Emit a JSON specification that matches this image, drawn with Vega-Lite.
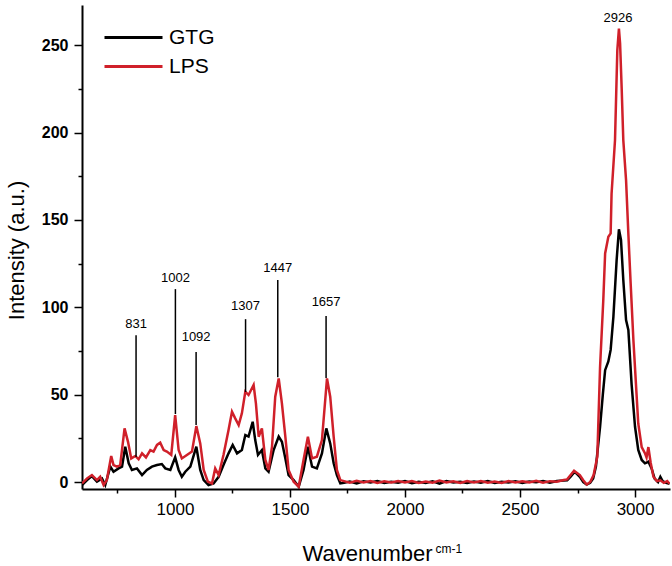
{
  "$schema": "https://vega.github.io/schema/vega-lite/v6.json",
  "width": 588,
  "height": 484,
  "autosize": "none",
  "padding": {"left": 82, "top": 5, "right": 2, "bottom": 77},
  "background": "white",
  "config": {
    "view": {"stroke": null},
    "font": "Liberation Sans",
    "axis": {"domainColor": "black", "domainWidth": 2, "tickColor": "black", "tickWidth": 1.5, "grid": false, "labelColor": "black", "titleColor": "black", "labelFont": "Liberation Sans", "titleFont": "Liberation Sans", "titleFontWeight": "normal"}
  },
  "datasets": {
    "spectra": [
      {"wn":596,"sample":"GTG","v":-1.7},{"wn":618,"sample":"GTG","v":1.1},{"wn":639,"sample":"GTG","v":3.4},{"wn":661,"sample":"GTG","v":0.2},{"wn":683,"sample":"GTG","v":2},{"wn":697,"sample":"GTG","v":-1.7},{"wn":719,"sample":"GTG","v":8.8},{"wn":733,"sample":"GTG","v":5.9},{"wn":755,"sample":"GTG","v":7.8},{"wn":770,"sample":"GTG","v":8.8},{"wn":784,"sample":"GTG","v":20.2},{"wn":799,"sample":"GTG","v":10.7},{"wn":813,"sample":"GTG","v":6.9},{"wn":835,"sample":"GTG","v":7.8},{"wn":857,"sample":"GTG","v":4},{"wn":878,"sample":"GTG","v":6.9},{"wn":900,"sample":"GTG","v":8.8},{"wn":922,"sample":"GTG","v":9.7},{"wn":943,"sample":"GTG","v":10.3},{"wn":958,"sample":"GTG","v":7.8},{"wn":980,"sample":"GTG","v":6.9},{"wn":1001,"sample":"GTG","v":14.1},{"wn":1016,"sample":"GTG","v":6.9},{"wn":1030,"sample":"GTG","v":3},{"wn":1045,"sample":"GTG","v":5.9},{"wn":1067,"sample":"GTG","v":8.8},{"wn":1093,"sample":"GTG","v":20.2},{"wn":1110,"sample":"GTG","v":6.9},{"wn":1125,"sample":"GTG","v":1.1},{"wn":1146,"sample":"GTG","v":-1.7},{"wn":1168,"sample":"GTG","v":-0.8},{"wn":1190,"sample":"GTG","v":3},{"wn":1211,"sample":"GTG","v":9.7},{"wn":1233,"sample":"GTG","v":16.4},{"wn":1251,"sample":"GTG","v":21.2},{"wn":1270,"sample":"GTG","v":16.4},{"wn":1291,"sample":"GTG","v":18.3},{"wn":1306,"sample":"GTG","v":26.9},{"wn":1320,"sample":"GTG","v":26},{"wn":1338,"sample":"GTG","v":34.5},{"wn":1349,"sample":"GTG","v":24},{"wn":1361,"sample":"GTG","v":15.5},{"wn":1378,"sample":"GTG","v":18.3},{"wn":1393,"sample":"GTG","v":7.8},{"wn":1407,"sample":"GTG","v":5.9},{"wn":1429,"sample":"GTG","v":18.3},{"wn":1451,"sample":"GTG","v":26},{"wn":1465,"sample":"GTG","v":23},{"wn":1480,"sample":"GTG","v":13.5},{"wn":1494,"sample":"GTG","v":4},{"wn":1516,"sample":"GTG","v":1.1},{"wn":1538,"sample":"GTG","v":-2.7},{"wn":1559,"sample":"GTG","v":6.9},{"wn":1578,"sample":"GTG","v":20.2},{"wn":1596,"sample":"GTG","v":8.8},{"wn":1617,"sample":"GTG","v":7.8},{"wn":1639,"sample":"GTG","v":16.4},{"wn":1658,"sample":"GTG","v":30.7},{"wn":1675,"sample":"GTG","v":22.1},{"wn":1690,"sample":"GTG","v":10.7},{"wn":1704,"sample":"GTG","v":4},{"wn":1719,"sample":"GTG","v":-0.8},
      {"wn":1735,"sample":"GTG","v":-0.5},{"wn":1760,"sample":"GTG","v":0.3},{"wn":1790,"sample":"GTG","v":-0.8},{"wn":1820,"sample":"GTG","v":0.4},{"wn":1850,"sample":"GTG","v":-0.3},{"wn":1880,"sample":"GTG","v":0.6},{"wn":1910,"sample":"GTG","v":-0.6},{"wn":1940,"sample":"GTG","v":0.2},{"wn":1970,"sample":"GTG","v":-0.4},{"wn":2000,"sample":"GTG","v":0.5},{"wn":2030,"sample":"GTG","v":-0.7},{"wn":2060,"sample":"GTG","v":0.1},{"wn":2090,"sample":"GTG","v":-0.5},{"wn":2120,"sample":"GTG","v":0.4},{"wn":2150,"sample":"GTG","v":-0.9},{"wn":2180,"sample":"GTG","v":0.6},{"wn":2210,"sample":"GTG","v":-0.3},{"wn":2240,"sample":"GTG","v":0.2},{"wn":2270,"sample":"GTG","v":-0.6},{"wn":2300,"sample":"GTG","v":0.3},{"wn":2330,"sample":"GTG","v":-0.4},{"wn":2360,"sample":"GTG","v":0.5},{"wn":2390,"sample":"GTG","v":-0.5},{"wn":2420,"sample":"GTG","v":0.2},{"wn":2450,"sample":"GTG","v":-0.3},{"wn":2480,"sample":"GTG","v":0.4},{"wn":2510,"sample":"GTG","v":-0.6},{"wn":2540,"sample":"GTG","v":0.3},{"wn":2570,"sample":"GTG","v":-0.2},{"wn":2600,"sample":"GTG","v":0.5},{"wn":2630,"sample":"GTG","v":-0.4},{"wn":2660,"sample":"GTG","v":0.6},{"wn":2690,"sample":"GTG","v":0.8},
      {"wn":2705,"sample":"GTG","v":1},{"wn":2720,"sample":"GTG","v":3},{"wn":2735,"sample":"GTG","v":5.5},{"wn":2745,"sample":"GTG","v":5},{"wn":2760,"sample":"GTG","v":3},{"wn":2775,"sample":"GTG","v":0},{"wn":2790,"sample":"GTG","v":-1.5},{"wn":2805,"sample":"GTG","v":-0.5},{"wn":2818,"sample":"GTG","v":2},{"wn":2830,"sample":"GTG","v":8.8},{"wn":2848,"sample":"GTG","v":31.6},{"wn":2860,"sample":"GTG","v":50},{"wn":2870,"sample":"GTG","v":64},{"wn":2884,"sample":"GTG","v":69},{"wn":2894,"sample":"GTG","v":75.6},{"wn":2906,"sample":"GTG","v":94.7},{"wn":2920,"sample":"GTG","v":127},{"wn":2930,"sample":"GTG","v":144.6},{"wn":2939,"sample":"GTG","v":138.5},{"wn":2949,"sample":"GTG","v":115.6},{"wn":2961,"sample":"GTG","v":92.7},{"wn":2971,"sample":"GTG","v":87},{"wn":2985,"sample":"GTG","v":56},{"wn":3000,"sample":"GTG","v":31.6},{"wn":3014,"sample":"GTG","v":18.4},{"wn":3029,"sample":"GTG","v":12.6},{"wn":3043,"sample":"GTG","v":10.7},{"wn":3058,"sample":"GTG","v":11.6},{"wn":3072,"sample":"GTG","v":7.8},{"wn":3085,"sample":"GTG","v":2},{"wn":3100,"sample":"GTG","v":0},{"wn":3110,"sample":"GTG","v":3},{"wn":3120,"sample":"GTG","v":0.5},{"wn":3135,"sample":"GTG","v":-0.5},{"wn":3150,"sample":"GTG","v":-1},
      {"wn":596,"sample":"LPS","v":-0.8},{"wn":618,"sample":"LPS","v":2.1},{"wn":639,"sample":"LPS","v":4},{"wn":661,"sample":"LPS","v":1.1},{"wn":675,"sample":"LPS","v":3},{"wn":690,"sample":"LPS","v":-1.7},{"wn":704,"sample":"LPS","v":1.1},{"wn":723,"sample":"LPS","v":14.9},{"wn":733,"sample":"LPS","v":9.7},{"wn":748,"sample":"LPS","v":8.8},{"wn":762,"sample":"LPS","v":9.7},{"wn":781,"sample":"LPS","v":30.7},{"wn":796,"sample":"LPS","v":23},{"wn":810,"sample":"LPS","v":13.5},{"wn":828,"sample":"LPS","v":14.9},{"wn":842,"sample":"LPS","v":13},{"wn":857,"sample":"LPS","v":16.4},{"wn":874,"sample":"LPS","v":14.1},{"wn":893,"sample":"LPS","v":18.3},{"wn":907,"sample":"LPS","v":17.4},{"wn":922,"sample":"LPS","v":21.2},{"wn":936,"sample":"LPS","v":22.5},{"wn":951,"sample":"LPS","v":18.3},{"wn":965,"sample":"LPS","v":17.4},{"wn":984,"sample":"LPS","v":15.5},{"wn":1001,"sample":"LPS","v":38.3},{"wn":1016,"sample":"LPS","v":18.3},{"wn":1030,"sample":"LPS","v":13.5},{"wn":1052,"sample":"LPS","v":15.5},{"wn":1074,"sample":"LPS","v":17.4},{"wn":1093,"sample":"LPS","v":32},{"wn":1110,"sample":"LPS","v":22.1},{"wn":1125,"sample":"LPS","v":6.9},{"wn":1143,"sample":"LPS","v":0.2},{"wn":1161,"sample":"LPS","v":-0.8},{"wn":1175,"sample":"LPS","v":7.8},{"wn":1190,"sample":"LPS","v":4},{"wn":1211,"sample":"LPS","v":15.5},{"wn":1233,"sample":"LPS","v":29.7},{"wn":1248,"sample":"LPS","v":40.2},{"wn":1262,"sample":"LPS","v":36.4},{"wn":1277,"sample":"LPS","v":32.6},{"wn":1291,"sample":"LPS","v":39.3},{"wn":1306,"sample":"LPS","v":51.7},{"wn":1320,"sample":"LPS","v":49.8},{"wn":1342,"sample":"LPS","v":55.5},{"wn":1352,"sample":"LPS","v":45},{"wn":1364,"sample":"LPS","v":25.9},{"wn":1378,"sample":"LPS","v":30.7},{"wn":1393,"sample":"LPS","v":12.6},{"wn":1407,"sample":"LPS","v":6.9},{"wn":1422,"sample":"LPS","v":20.2},{"wn":1436,"sample":"LPS","v":48.8},{"wn":1451,"sample":"LPS","v":59.3},{"wn":1465,"sample":"LPS","v":45},{"wn":1480,"sample":"LPS","v":25.9},{"wn":1494,"sample":"LPS","v":6.9},{"wn":1516,"sample":"LPS","v":0.2},{"wn":1538,"sample":"LPS","v":-2.7},{"wn":1559,"sample":"LPS","v":12.6},{"wn":1578,"sample":"LPS","v":25.9},{"wn":1596,"sample":"LPS","v":13.5},{"wn":1617,"sample":"LPS","v":14.5},{"wn":1639,"sample":"LPS","v":24},{"wn":1661,"sample":"LPS","v":59.3},{"wn":1675,"sample":"LPS","v":48.8},{"wn":1690,"sample":"LPS","v":25.9},{"wn":1704,"sample":"LPS","v":6.9},{"wn":1719,"sample":"LPS","v":1.1},
      {"wn":1735,"sample":"LPS","v":0.5},{"wn":1760,"sample":"LPS","v":-0.4},{"wn":1790,"sample":"LPS","v":0.7},{"wn":1820,"sample":"LPS","v":-0.2},{"wn":1850,"sample":"LPS","v":0.5},{"wn":1880,"sample":"LPS","v":-0.6},{"wn":1910,"sample":"LPS","v":0.4},{"wn":1940,"sample":"LPS","v":-0.3},{"wn":1970,"sample":"LPS","v":0.6},{"wn":2000,"sample":"LPS","v":-0.2},{"wn":2030,"sample":"LPS","v":0.5},{"wn":2060,"sample":"LPS","v":-0.5},{"wn":2090,"sample":"LPS","v":0.3},{"wn":2120,"sample":"LPS","v":-0.4},{"wn":2150,"sample":"LPS","v":0.8},{"wn":2180,"sample":"LPS","v":-0.3},{"wn":2210,"sample":"LPS","v":0.4},{"wn":2240,"sample":"LPS","v":-0.6},{"wn":2270,"sample":"LPS","v":0.5},{"wn":2300,"sample":"LPS","v":-0.2},{"wn":2330,"sample":"LPS","v":0.6},{"wn":2360,"sample":"LPS","v":-0.4},{"wn":2390,"sample":"LPS","v":0.3},{"wn":2420,"sample":"LPS","v":-0.5},{"wn":2450,"sample":"LPS","v":0.6},{"wn":2480,"sample":"LPS","v":-0.3},{"wn":2510,"sample":"LPS","v":0.4},{"wn":2540,"sample":"LPS","v":-0.2},{"wn":2570,"sample":"LPS","v":0.7},{"wn":2600,"sample":"LPS","v":-0.4},{"wn":2630,"sample":"LPS","v":0.5},{"wn":2660,"sample":"LPS","v":0.2},{"wn":2690,"sample":"LPS","v":1.2},
      {"wn":2705,"sample":"LPS","v":1.5},{"wn":2720,"sample":"LPS","v":4},{"wn":2735,"sample":"LPS","v":6.5},{"wn":2745,"sample":"LPS","v":5.5},{"wn":2760,"sample":"LPS","v":4},{"wn":2775,"sample":"LPS","v":1},{"wn":2790,"sample":"LPS","v":-1.5},{"wn":2805,"sample":"LPS","v":0},{"wn":2820,"sample":"LPS","v":4},{"wn":2836,"sample":"LPS","v":14.5},{"wn":2848,"sample":"LPS","v":66},{"wn":2862,"sample":"LPS","v":104},{"wn":2870,"sample":"LPS","v":130.8},{"wn":2884,"sample":"LPS","v":140.4},{"wn":2894,"sample":"LPS","v":142.3},{"wn":2898,"sample":"LPS","v":165},{"wn":2913,"sample":"LPS","v":195.7},{"wn":2923,"sample":"LPS","v":247},{"wn":2930,"sample":"LPS","v":259.5},{"wn":2935,"sample":"LPS","v":251},{"wn":2942,"sample":"LPS","v":225},{"wn":2949,"sample":"LPS","v":195.7},{"wn":2961,"sample":"LPS","v":172.8},{"wn":2971,"sample":"LPS","v":142},{"wn":2981,"sample":"LPS","v":113.6},{"wn":2993,"sample":"LPS","v":81},{"wn":3004,"sample":"LPS","v":56},{"wn":3014,"sample":"LPS","v":33.5},{"wn":3029,"sample":"LPS","v":20},{"wn":3043,"sample":"LPS","v":16.5},{"wn":3050,"sample":"LPS","v":14},{"wn":3058,"sample":"LPS","v":20},{"wn":3068,"sample":"LPS","v":11},{"wn":3080,"sample":"LPS","v":3},{"wn":3095,"sample":"LPS","v":0.5},{"wn":3110,"sample":"LPS","v":1},{"wn":3125,"sample":"LPS","v":-0.5},{"wn":3140,"sample":"LPS","v":0.5},{"wn":3150,"sample":"LPS","v":-1}
    ],
    "peaks": [
      {"wn":831,"label":"831","top":84,"bottom":14.3,"ly":90.4},
      {"wn":1002,"label":"1002","top":110.4,"bottom":38.9,"ly":116.7},
      {"wn":1092,"label":"1092","top":74.4,"bottom":32.6,"ly":83},
      {"wn":1307,"label":"1307","top":93.2,"bottom":51.5,"ly":100.7},
      {"wn":1447,"label":"1447","top":115.6,"bottom":60,"ly":122.4},
      {"wn":1657,"label":"1657","top":95,"bottom":59.5,"ly":103},
      {"wn":2926,"label":"2926","top":null,"bottom":null,"ly":265.4}
    ],
    "unit": [{"wn":2191,"v":-38.3,"t":"cm-1"}]
  },
  "layer": [
    {
      "data": {"name": "spectra"},
      "mark": {"type": "line", "strokeWidth": 2.5, "clip": true},
      "encoding": {
        "x": {"field": "wn", "type": "quantitative", "scale": {"domain": [596, 3152], "nice": false, "zero": false},
          "axis": {"values": [750,1000,1250,1500,1750,2000,2250,2500,2750,3000], "labelExpr": "datum.value % 500 === 0 ? datum.label : ''", "format": "d", "labelFontSize": 17, "labelPadding": 4, "tickSize": {"condition": {"test": "datum.value % 500 === 0", "value": 8}, "value": 4}, "title": "Wavenumber", "titleFontSize": 22, "titleX": 285, "titleY": 71, "titleBaseline": "alphabetic", "titleAlign": "center"}},
        "y": {"field": "v", "type": "quantitative", "scale": {"domain": [-4, 273], "nice": false, "zero": false},
          "axis": {"values": [0,25,50,75,100,125,150,175,200,225,250], "labelExpr": "datum.value % 50 === 0 ? datum.label : ''", "labelFontSize": 16, "labelFontWeight": "bold", "labelPadding": 6, "tickSize": {"condition": {"test": "datum.value % 50 === 0", "value": 8}, "value": 4}, "title": "Intensity (a.u.)", "titleFontSize": 22, "titleX": -66, "titleY": 245, "titleAngle": -90, "titleBaseline": "middle", "titleAlign": "center"}},
        "color": {"field": "sample", "type": "nominal", "scale": {"domain": ["GTG", "LPS"], "range": ["#000000", "#d0202a"]},
          "legend": {"title": null, "orient": "none", "legendX": 40, "legendY": 21, "symbolType": "M-2.9,0L2.9,0", "symbolSize": 400, "symbolStrokeWidth": 3, "labelFontSize": 21, "labelFont": "Liberation Sans", "labelColor": "black", "labelOffset": 24, "rowPadding": 7}}
      }
    },
    {
      "data": {"name": "peaks"},
      "transform": [{"filter": "datum.top != null"}],
      "mark": {"type": "rule", "color": "black", "strokeWidth": 1.5},
      "encoding": {
        "x": {"field": "wn", "type": "quantitative"},
        "y": {"field": "top", "type": "quantitative"},
        "y2": {"field": "bottom"}
      }
    },
    {
      "data": {"name": "peaks"},
      "mark": {"type": "text", "fontSize": 13, "font": "Liberation Sans", "color": "black", "baseline": "middle", "align": "center"},
      "encoding": {
        "x": {"field": "wn", "type": "quantitative"},
        "y": {"field": "ly", "type": "quantitative"},
        "text": {"field": "label"}
      }
    },
    {
      "data": {"name": "unit"},
      "mark": {"type": "text", "fontSize": 12, "font": "Liberation Sans", "color": "black", "baseline": "middle", "align": "center"},
      "encoding": {
        "x": {"field": "wn", "type": "quantitative"},
        "y": {"field": "v", "type": "quantitative"},
        "text": {"field": "t"}
      }
    }
  ]
}
